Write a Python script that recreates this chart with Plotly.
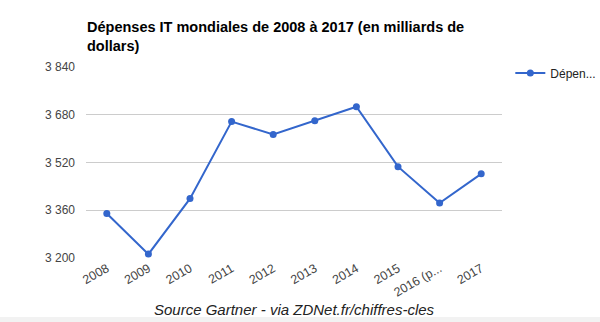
import plotly.graph_objects as go

categories = ["2008", "2009", "2010", "2011", "2012", "2013", "2014", "2015", "2016 (p...", "2017"]
depenses = [3349, 3213, 3399, 3657, 3614, 3660, 3707, 3506, 3384, 3482]
y_tickvals = [3200, 3360, 3520, 3680, 3840]
y_ticktext = ["3 200", "3 360", "3 520", "3 680", "3 840"]

W, H = 600, 322
ML, MR, MT, MB = 86, 98, 67, 64

fig = go.Figure()
fig.add_trace(go.Scatter(
    x=categories, y=depenses, mode="lines+markers", name="Dépen...",
    line=dict(color="#3366cc", width=2),
    marker=dict(color="#3366cc", size=7),
))

fig.update_layout(
    width=W, height=H,
    margin=dict(l=ML, r=MR, t=MT, b=MB, pad=0, autoexpand=False),
    paper_bgcolor="white", plot_bgcolor="white",
    font=dict(family="Arial, 'Liberation Sans', sans-serif", size=12, color="#444"),
    annotations=[
        dict(
            text="<b>Dépenses IT mondiales de 2008 à 2017 (en milliards de<br>dollars)</b>",
            xref="paper", yref="paper", x=0, xanchor="left", align="left",
            y=1 + (MT - 18) / (H - MT - MB), yanchor="top",
            showarrow=False, font=dict(size=14.5, color="#000"),
            borderpad=0,
        ),
        dict(
            text="<i>Source Gartner - via ZDNet.fr/chiffres-cles</i>",
            xref="paper", yref="paper", x=0.5, xanchor="center",
            y=-(309 - (H - MB)) / (H - MT - MB), yanchor="middle",
            showarrow=False, font=dict(size=15, color="#222"),
        ),
    ],
    showlegend=True,
    legend=dict(
        x=1.02, xanchor="left", y=1.045, yanchor="top",
        font=dict(size=12, color="#222"),
        bgcolor="rgba(0,0,0,0)", itemwidth=30,
    ),
    xaxis=dict(
        type="category", tickangle=-30, showgrid=False, showline=False,
        zeroline=False, ticks="", tickfont=dict(size=12.5, color="#444"),
        range=[-0.5, len(categories) - 0.5],
    ),
    yaxis=dict(
        range=[3200, 3840], tickvals=y_tickvals, ticktext=y_ticktext,
        showgrid=True, gridcolor="#cccccc", gridwidth=1, zeroline=False,
        showline=False, ticks="", ticklabelstandoff=10,
        tickfont=dict(size=12, color="#444"),
    ),
    shapes=[dict(
        type="rect", xref="paper", yref="paper", layer="below",
        x0=-ML / (W - ML - MR), x1=1 + MR / (W - ML - MR),
        y0=-(H - (H - MB)) / (H - MT - MB), y1=-(317 - (H - MB)) / (H - MT - MB),
        fillcolor="#f2f2f2", line=dict(width=0),
    )],
)

fig.write_html("out.html")
